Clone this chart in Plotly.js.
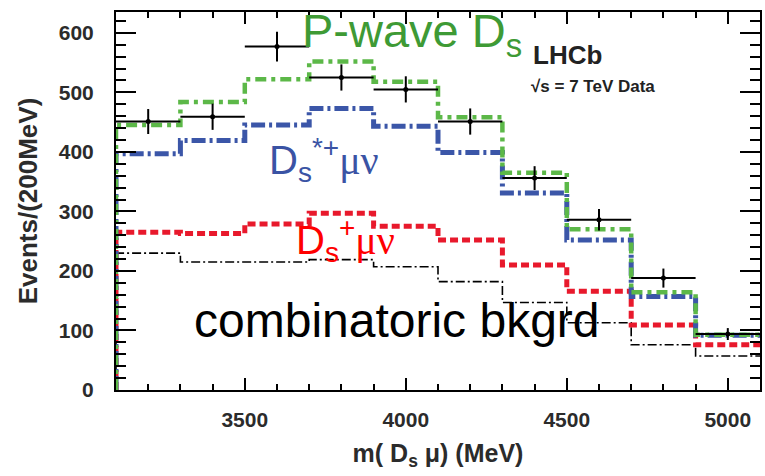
<!DOCTYPE html>
<html>
<head>
<meta charset="utf-8">
<script src="https://cdn.plot.ly/plotly-3.0.1.min.js"></script>
<style>html,body{margin:0;padding:0;background:#fff;}#chart{width:765px;height:476px;}</style>
</head>
<body>
<div id="chart"></div>
<script>
// Bin centres of m(Ds mu) in MeV (bin width 200 MeV)
const binCenters = [3200, 3400, 3600, 3800, 4000, 4200, 4400, 4600, 4800, 5000];
const binWidth = 200;
// Data points and their errors
const dataY   = [451, 459, 577, 525, 505, 451, 356, 286, 188, 94];
const dataErr = [21, 22, 25, 22, 22, 22, 20, 18, 16, 10];
// Stacked fit components (cumulative)
const pwaveTotal = [445, 484, 522, 552, 518, 458, 365, 270, 164, 93];
const dsStar     = [397, 419, 445, 473, 443, 399, 331, 252, 157, 92];
const dsPlus     = [265, 263, 279, 297, 275, 252, 210, 166, 109, 76];
const combBkg    = [230, 215, 215, 219, 207, 182, 147, 113, 76, 57];

const edges = binCenters.map(c => c - binWidth / 2).concat([binCenters[binCenters.length - 1] + binWidth / 2]);
function stepY(vals) { return [0].concat(vals); }

const font = "Liberation Sans, Arial, Helvetica, sans-serif";

function stepTrace(vals, color, width, dash, name) {
  return {
    type: 'scatter', mode: 'lines', name: name,
    x: edges, y: stepY(vals),
    line: {shape: 'vh', color: color, width: width, dash: dash},
    hoverinfo: 'skip', cliponaxis: false
  };
}

const traces = [
  stepTrace(combBkg, '#000000', 1.6, '9px,3px,2px,3px', 'combinatoric'),
  stepTrace(dsPlus, '#e8192c', 5, '8px,4px', 'Ds+'),
  stepTrace(dsStar, '#3b56a8', 5, '14px,4px,3px,4px', 'Ds*'),
  stepTrace(pwaveTotal, '#5cb848', 4.5, '11px,5px,4px,5px', 'P-wave'),
  {
    type: 'scatter', mode: 'markers', name: 'data',
    x: binCenters, y: dataY,
    marker: {color: '#000', size: 5, symbol: 'circle'},
    error_x: {type: 'constant', value: binWidth / 2, color: '#000', thickness: 2, width: 0},
    error_y: {type: 'data', array: dataErr, color: '#000', thickness: 2, width: 0},
    cliponaxis: false
  }
];

const L = 116, R = 760, T = 12, B = 390;
function px(x) { return (x - L) / (R - L); }
function py(y) { return (B - y) / (B - T); }
const serifGreek = "font-family:'Liberation Serif',serif";

const layout = {
  width: 765, height: 476,
  margin: {l: L, r: 765 - R, t: T, b: 476 - B},
  paper_bgcolor: '#fff', plot_bgcolor: '#fff',
  showlegend: false,
  font: {family: font, color: '#000'},
  xaxis: {
    range: [3100, 5100],
    tick0: 0, dtick: 500,
    ticks: 'inside', ticklen: 12, tickwidth: 2, tickcolor: '#000',
    minor: {dtick: 100, ticks: 'inside', ticklen: 6, tickwidth: 2, tickcolor: '#000'},
    showline: true, linecolor: '#000', linewidth: 2, mirror: 'allticks',
    showgrid: false, zeroline: false,
    tickfont: {family: font, size: 21, color: '#2b2b2b', weight: 'bold'},
    ticklabelstandoff: 10,
    title: {text: 'm( D<sub>s</sub> μ) (MeV)', font: {family: font, size: 25, color: '#2b2b2b', weight: 'bold'}, standoff: 14}
  },
  yaxis: {
    range: [0, 635],
    tick0: 0, dtick: 100,
    ticks: 'inside', ticklen: 20, tickwidth: 2, tickcolor: '#000',
    minor: {dtick: 20, ticks: 'inside', ticklen: 10, tickwidth: 2, tickcolor: '#000'},
    showline: true, linecolor: '#000', linewidth: 2, mirror: 'allticks',
    showgrid: false, zeroline: false,
    tickfont: {family: font, size: 21, color: '#2b2b2b', weight: 'bold'},
    ticklabelstandoff: 16,
    title: {text: 'Events/(200MeV)', font: {family: font, size: 26, color: '#2b2b2b', weight: 'bold'}, standoff: 14}
  },
  annotations: [
    {xref: 'paper', yref: 'paper', x: px(300), y: py(34), xanchor: 'left', yanchor: 'middle', showarrow: false,
     text: 'P-wave D<sub>s</sub>', font: {family: font, size: 47, color: '#3e9a35'}},
    {xref: 'paper', yref: 'paper', x: px(531), y: py(55), xanchor: 'left', yanchor: 'middle', showarrow: false,
     text: 'LHCb', font: {family: font, size: 26, color: '#222', weight: 'bold'}},
    {xref: 'paper', yref: 'paper', x: px(529), y: py(86), xanchor: 'left', yanchor: 'middle', showarrow: false,
     text: '√s = 7 TeV Data', font: {family: font, size: 17, color: '#222', weight: 'bold'}},
    {xref: 'paper', yref: 'paper', x: px(267), y: py(160), xanchor: 'left', yanchor: 'middle', showarrow: false,
     text: 'D<sub>s</sub><sup>*+</sup><span style="' + serifGreek + '">μν</span>', font: {family: font, size: 40, color: '#3a53a4'}},
    {xref: 'paper', yref: 'paper', x: px(294), y: py(240), xanchor: 'left', yanchor: 'middle', showarrow: false,
     text: 'D<sub>s</sub><sup>+</sup><span style="' + serifGreek + '">μν</span>', font: {family: font, size: 40, color: '#ff0000'}},
    {xref: 'paper', yref: 'paper', x: px(192), y: py(320), xanchor: 'left', yanchor: 'middle', showarrow: false,
     text: 'combinatoric bkgrd', font: {family: font, size: 48, color: '#000'}}
  ]
};

Plotly.newPlot('chart', traces, layout, {displayModeBar: false, staticPlot: true});
</script>
</body>
</html>
